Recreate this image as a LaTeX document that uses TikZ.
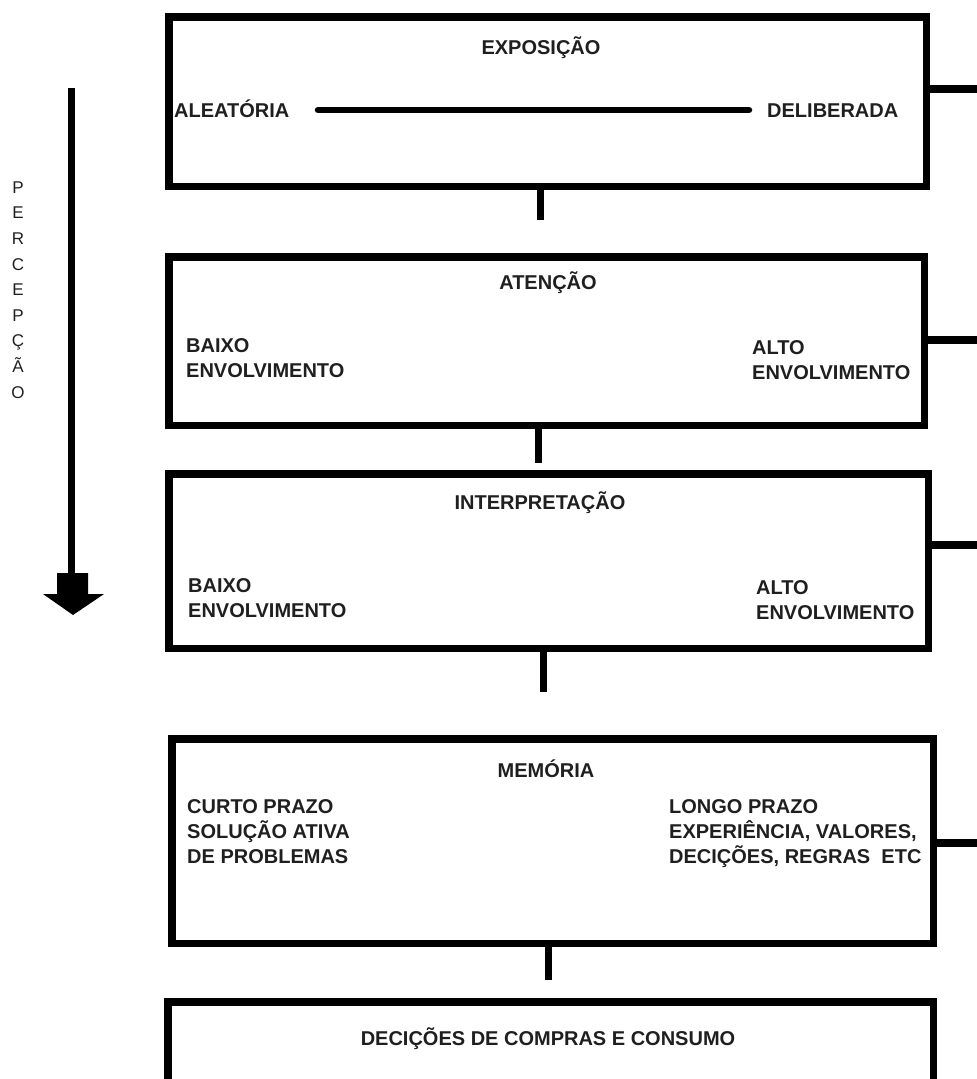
\documentclass[tikz,border=0pt]{standalone}
\usepackage{fontspec}
\setmainfont{Liberation Sans}
\begin{document}
\begin{tikzpicture}[x=1pt,y=-1pt,
  box/.style={draw=black, line width=7.5pt, rectangle, inner sep=0pt},
  conn/.style={draw=black, line width=7pt},
  lbl/.style={font=\fontsize{20}{25}\selectfont\bfseries, inner sep=0pt, align=left, text=black!88},
  ttl/.style={font=\fontsize{20}{25}\selectfont\bfseries, inner sep=0pt, text=black!88, anchor=base}
]
\useasboundingbox (0,0) rectangle (977,1079);
% boxes
\node[box, minimum width=757.5pt, minimum height=169.5pt] (b1) at (547.5,101.5) {};
\node[box, minimum width=755.5pt, minimum height=168.5pt] (b2) at (546.5,341) {};
\node[box, minimum width=759.5pt, minimum height=174.5pt] (b3) at (548.5,561) {};
\node[box, minimum width=761.5pt, minimum height=204.5pt] (b4) at (552.5,841) {};
\node[box, minimum width=765.5pt, minimum height=84.5pt] (b5) at (550.5,1044) {};
% right stubs
\coordinate (s1) at (977,89);
\coordinate (s2) at (977,340);
\coordinate (s3) at (977,545);
\coordinate (s4) at (977,843);
\draw[conn, line width=8pt] (b1.east |- s1) -- (s1);
\draw[conn, line width=8pt] (b2.east |- s2) -- (s2);
\draw[conn, line width=8pt] (b3.east |- s3) -- (s3);
\draw[conn, line width=8pt] (b4.east |- s4) -- (s4);
% vertical stubs
\coordinate (v1) at (540,220);
\coordinate (v2) at (538,463);
\coordinate (v3) at (543,692);
\coordinate (v4) at (548,980);
\draw[conn] (b1.south -| v1) -- (v1);
\draw[conn] (b2.south -| v2) -- (v2);
\draw[conn] (b3.south -| v3) -- (v3);
\draw[conn] (b4.south -| v4) -- (v4);
% box 1 texts
\node[ttl] (t1) at (541,54) {EXPOSIÇÃO};
\node[lbl, anchor=base west] (al) at (174,117) {ALEATÓRIA};
\node[lbl, anchor=base west] (de) at (767,117) {DELIBERADA};
\coordinate (l1) at (318,110);
\coordinate (l2) at (749,110);
\draw[conn, line width=6.5pt, line cap=round] (l1) -- (l2);
% box 2 texts
\node[ttl] (t2) at (548,289) {ATENÇÃO};
\node[lbl, anchor=north west] (b2l) at (186,338) {BAIXO\\ENVOLVIMENTO};
\node[lbl, anchor=north west] (b2r) at (752,340) {ALTO\\ENVOLVIMENTO};
% box 3 texts
\node[ttl] (t3) at (540,509) {INTERPRETAÇÃO};
\node[lbl, anchor=north west] (b3l) at (188,578) {BAIXO\\ENVOLVIMENTO};
\node[lbl, anchor=north west] (b3r) at (756,580) {ALTO\\ENVOLVIMENTO};
% box 4 texts
\node[ttl] (t4) at (546,777) {MEMÓRIA};
\node[lbl, anchor=north west] (b4l) at (187,799) {CURTO PRAZO\\SOLUÇÃO ATIVA\\DE PROBLEMAS};
\node[lbl, anchor=north west] (b4r) at (669,799) {LONGO PRAZO\\EXPERIÊNCIA, VALORES,\\DECIÇÕES, REGRAS~~ETC};
% box 5 text
\node[ttl] (t5) at (548,1045) {DECIÇÕES DE COMPRAS E CONSUMO};
% perception arrow
\coordinate (atop) at (71,88);
\coordinate (abot) at (71,576);
\draw[conn] (atop) -- (abot);
\fill[black] (57,573) -- (88,573) -- (88,594) -- (104,594) -- (73,615) -- (43,594) -- (57,594) -- cycle;
\node[font=\fontsize{17}{25.6}\selectfont, align=center, inner sep=0pt, text=black!88] (perc) at (18,290) {P\\E\\R\\C\\E\\P\\Ç\\Ã\\O};
\end{tikzpicture}
\end{document}
